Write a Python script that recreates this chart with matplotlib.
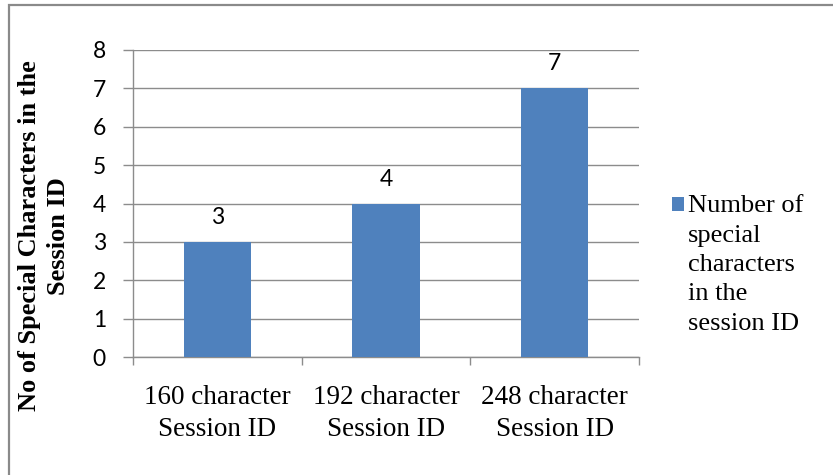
import matplotlib
matplotlib.use("Agg")
import matplotlib.pyplot as plt
from matplotlib.patches import Rectangle
from matplotlib.legend_handler import HandlerPatch
from matplotlib.ticker import FixedLocator

categories = ["160 character\nSession ID", "192 character\nSession ID", "248 character\nSession ID"]
values = [3, 4, 7]
series_name = "Number of\nspecial\ncharacters\nin the\nsession ID"
y_ticks = [0, 1, 2, 3, 4, 5, 6, 7, 8]
y_label = "No of Special Characters in the\nSession ID"

BAR = "#4F81BD"
GRID = "#8c8c8c"
SERIF = "Liberation Serif"
SANS = "Lato"

fig = plt.figure(figsize=(8.33, 4.75), dpi=100)
ax = fig.add_axes([133 / 833, 1 - 357 / 475, (639 - 133) / 833, (357 - 50) / 475])

x = list(range(len(categories)))
bars = ax.bar(x, values, width=0.4, color=BAR, label=series_name, zorder=3)

ax.set_xlim(-0.5, len(categories) - 0.5)
ax.set_ylim(y_ticks[0], y_ticks[-1])
ax.set_yticks(y_ticks)
ax.set_yticklabels([str(t) for t in y_ticks], fontfamily=SANS, fontsize=16.5)
ax.yaxis.grid(True, color=GRID, linewidth=1.0, zorder=0)
ax.tick_params(axis="y", length=7.5, width=1.0, color=GRID, pad=12)

ax.set_xticks(x)
ax.set_xticklabels(categories, fontfamily=SERIF, fontsize=19.5, linespacing=1.4)
ax.tick_params(axis="x", which="major", length=0, pad=20)
ax.xaxis.set_minor_locator(FixedLocator([i - 0.5 for i in range(len(categories) + 1)]))
ax.tick_params(axis="x", which="minor", length=6, width=1.0, color=GRID)

for side in ("top", "right"):
    ax.spines[side].set_visible(False)
for side in ("left", "bottom"):
    ax.spines[side].set_color(GRID)
    ax.spines[side].set_linewidth(1.0)

for rect, v in zip(bars, values):
    ax.annotate(str(v), (rect.get_x() + rect.get_width() / 2, v),
                xytext=(0, 10), textcoords="offset points",
                ha="center", va="bottom", fontfamily=SANS, fontsize=16.5)

fig.text(44 / 833, 1 - 236 / 475, y_label, rotation=90, ha="center", va="center",
         multialignment="center", fontfamily=SERIF, fontweight="bold", fontsize=19,
         linespacing=1.32)


def top_square(legend, orig_handle, xdescent, ydescent, width, height, fontsize):
    # keep the swatch beside the first line of the wrapped label
    return Rectangle((-xdescent, -ydescent + 43), width, height)


leg = ax.legend(handles=[bars[0]], labels=[series_name], loc="center left",
                bbox_to_anchor=(672 / 833, 1 - 265 / 475),
                bbox_transform=fig.transFigure, frameon=False,
                borderpad=0, borderaxespad=0, handlelength=0.45, handleheight=0.45,
                handletextpad=0.15,
                prop={"family": SERIF, "size": 19},
                handler_map={Rectangle: HandlerPatch(patch_func=top_square)})
for t in leg.get_texts():
    t.set_linespacing(1.44)

# outer chart frame
fig.add_artist(Rectangle((9 / 833, -0.2), 1.5, 1.2 - 5 / 475, transform=fig.transFigure,
                         facecolor="none", edgecolor="#8a8a8a", linewidth=1.6))

fig.savefig("out.png", dpi=100)
